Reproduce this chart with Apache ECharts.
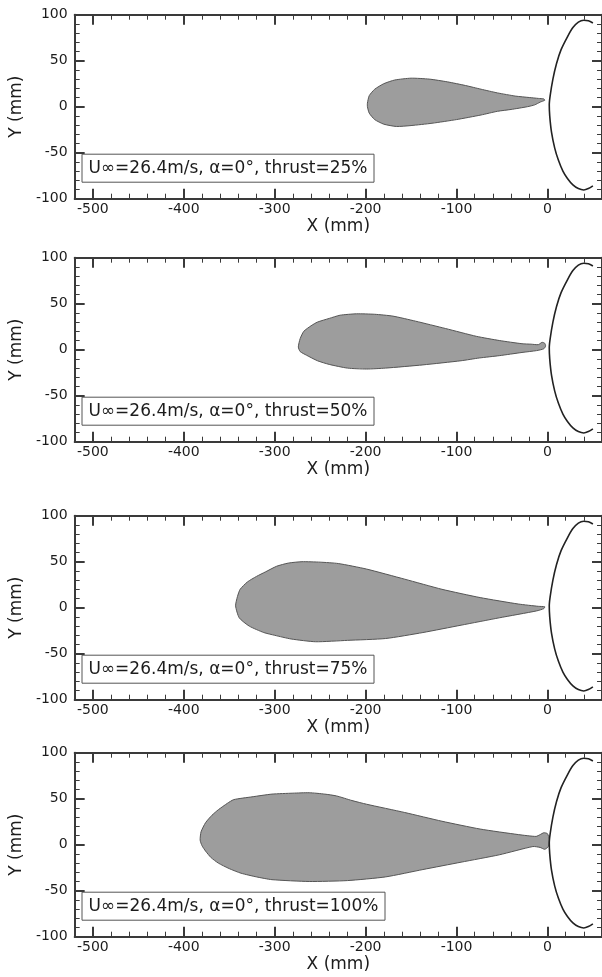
<!DOCTYPE html>
<html><head><meta charset="utf-8">
<script src="https://cdn.jsdelivr.net/npm/echarts@6/dist/echarts.min.js"></script>
<style>html,body{margin:0;padding:0;background:#fff}#c{width:602px;height:977px}</style>
</head><body><div id="c"></div>
<script>
// ---- data ----
const xMajorTicks = [-500, -400, -300, -200, -100, 0];
const xRange = [-520, 60];
const yRange = [-100, 100];
const panelLabels = [
  'U∞=26.4m/s, α=0°, thrust=25%',
  'U∞=26.4m/s, α=0°, thrust=50%',
  'U∞=26.4m/s, α=0°, thrust=75%',
  'U∞=26.4m/s, α=0°, thrust=100%'
];
const plume25 = [
  [-198,4],[-196,12],[-190,19],[-180,25],[-168,29],[-150,31],[-130,30],[-110,27],[-90,23],[-73,19],
  [-55,15],[-35,11.5],[-20,10],[-10,9],[-4,8.5],[-3,7],[-8,5],[-14,2],[-22,0],[-40,-3],[-55,-5],
  [-73,-9],[-100,-14],[-127,-18],[-150,-20.5],[-166,-21.5],[-180,-19],[-190,-14],[-196,-7],[-198,0]
];
const plume50 = [
  [-274,3],[-272,12],[-268,20],[-260,26],[-253,30],[-240,34],[-228,37.5],[-210,39],[-190,38.5],
  [-170,36.5],[-145,31],[-112,23],[-78,14.5],[-53,10],[-28,6.5],[-18,6],[-10,5.5],[-6,8],[-3,7],
  [-2,4],[-4,1],[-12,-1],[-28,-3],[-53,-6.5],[-75,-9],[-95,-12],[-137,-16.5],[-178,-20],[-199,-21],
  [-220,-20],[-240,-16],[-253,-12],[-265,-6],[-272,-2]
];
const plume75 = [
  [-343,2],[-341,12],[-338,20],[-330,28],[-320,34],[-310,39],[-298,45],[-285,48.5],[-270,50],
  [-250,49.5],[-230,48],[-199,42],[-157,31],[-116,20],[-74,11],[-32,4],[-10,1.5],[-3,1],[-4,-1],
  [-12,-3.5],[-53,-11],[-95,-19],[-137,-27],[-178,-33.5],[-220,-35.5],[-255,-37],[-282,-34],
  [-300,-30],[-312,-27],[-328,-20],[-339,-11]
];
const plume100 = [
  [-382,5],[-381,14],[-376,24],[-369,32],[-362,38],[-352,45],[-345,49],[-325,52],[-303,55],[-280,56],
  [-262,56.5],[-245,55],[-232,53],[-215,48],[-199,44],[-157,35],[-116,25.5],[-74,17],[-32,11],
  [-12.5,9],[-8,11],[-4,13],[0,12],[2,6],[1,-2],[-3,-5],[-8,-3],[-16,-2],[-53,-11],[-95,-19],
  [-137,-27],[-178,-35],[-220,-39],[-262,-40],[-303,-38],[-320,-35],[-337,-31],[-350,-26],
  [-362,-20],[-370,-14],[-376,-7],[-380,-1]
];
const bodyOutline = [
  [50,91],[45,93.5],[40,94],[34,92],[28,86],[22,76],[15,62],[10,47],[6,30],[3,12],[2,2],[2.5,-10],
  [4.5,-28],[8,-45],[12,-58],[17,-70],[22,-78],[28,-85],[34,-89],[40,-90.5],[45,-89],[50,-86]
];
const plumes = [plume25, plume50, plume75, plume100];

// ---- layout / style ----
const gridTops = [14.7, 257.7, 515.7, 752.7];
const gridLeft = 67.5, gridWidth = 536, gridHeight = 184;
const boxWidths = [292, 292, 292, 303];
const axisColor = '#3a3a3a';
const textColor = '#1c1c1c';
const FONT = 'DejaVu Sans';

const grids = [], xAxes = [], yAxes = [], series = [], graphics = [];

gridTops.forEach((top, i) => {
  grids.push({left: gridLeft, top: top, width: gridWidth, height: gridHeight, containLabel: false});
  const cx = {type: 'value', gridIndex: i, min: xRange[0], max: xRange[1], splitLine: {show: false}};
  const lineOn = {show: true, onZero: false, lineStyle: {color: axisColor, width: 2}};
  const lineOff = {show: false, onZero: false};
  xAxes.push(Object.assign({}, cx, {
    position: 'bottom', interval: 20, axisLine: lineOn,
    axisTick: {show: true, inside: true, length: 10, customValues: xMajorTicks, lineStyle: {color: axisColor, width: 2}},
    axisLabel: {show: true, customValues: xMajorTicks, margin: 4, fontSize: 14, fontFamily: FONT, color: textColor},
    name: 'X (mm)', nameLocation: 'middle', nameGap: 17,
    nameTextStyle: {fontSize: 17, fontFamily: FONT, color: textColor}
  }));
  xAxes.push(Object.assign({}, cx, {
    position: 'bottom', interval: 20, axisLine: lineOff,
    axisTick: {show: true, inside: true, length: 5, lineStyle: {color: axisColor, width: 1}},
    axisLabel: {show: false}
  }));
  xAxes.push(Object.assign({}, cx, {
    position: 'top', interval: 20, axisLine: lineOn,
    axisTick: {show: true, inside: true, length: 10, customValues: xMajorTicks, lineStyle: {color: axisColor, width: 2}},
    axisLabel: {show: false}
  }));
  xAxes.push(Object.assign({}, cx, {
    position: 'top', interval: 20, axisLine: lineOff,
    axisTick: {show: true, inside: true, length: 5, lineStyle: {color: axisColor, width: 1}},
    axisLabel: {show: false}
  }));

  const cy = {type: 'value', gridIndex: i, min: yRange[0], max: yRange[1], splitLine: {show: false}};
  yAxes.push(Object.assign({}, cy, {
    position: 'left', interval: 50, axisLine: lineOn,
    axisTick: {show: true, inside: true, length: 10, lineStyle: {color: axisColor, width: 2}},
    axisLabel: {show: true, margin: 7, fontSize: 14, fontFamily: FONT, color: textColor, showMinLabel: true, showMaxLabel: true},
    name: 'Y (mm)', nameLocation: 'middle', nameGap: 44, nameRotate: 90,
    nameTextStyle: {fontSize: 17, fontFamily: FONT, color: textColor}
  }));
  yAxes.push(Object.assign({}, cy, {
    position: 'left', interval: 10, axisLine: lineOff,
    axisTick: {show: true, inside: true, length: 5, lineStyle: {color: axisColor, width: 1}},
    axisLabel: {show: false}
  }));
  yAxes.push(Object.assign({}, cy, {
    position: 'right', interval: 50, axisLine: lineOn,
    axisTick: {show: true, inside: true, length: 10, lineStyle: {color: axisColor, width: 2}},
    axisLabel: {show: false}
  }));
  yAxes.push(Object.assign({}, cy, {
    position: 'right', interval: 10, axisLine: lineOff,
    axisTick: {show: true, inside: true, length: 5, lineStyle: {color: axisColor, width: 1}},
    axisLabel: {show: false}
  }));

  const pts = plumes[i];
  series.push({
    type: 'custom', name: 'plume' + i, xAxisIndex: 4 * i, yAxisIndex: 4 * i, clip: true,
    data: pts, encode: {x: 0, y: 1}, silent: true,
    renderItem: function (params, api) {
      if (params.dataIndex !== 0) return null;
      const points = pts.map(p => api.coord(p));
      return {type: 'polygon', shape: {points: points, smooth: 0.2},
        style: {fill: '#9d9d9d', stroke: '#555', lineWidth: 1}};
    }
  });
  series.push({
    type: 'line', name: 'body' + i, xAxisIndex: 4 * i, yAxisIndex: 4 * i,
    data: bodyOutline, smooth: 0.3, showSymbol: false, silent: true,
    lineStyle: {color: '#222', width: 1.6}
  });

  const bw = boxWidths[i];
  graphics.push({
    type: 'group', x: 82, y: top + 139.5, silent: true,
    children: [
      {type: 'rect', shape: {x: 0, y: 0, width: bw, height: 28},
        style: {fill: '#fff', stroke: '#555', lineWidth: 1}},
      {type: 'text', style: {text: panelLabels[i], x: bw / 2, y: 14.5, textAlign: 'center',
        textVerticalAlign: 'middle', verticalAlign: 'middle', font: '17px "' + FONT + '"', fill: textColor}}
    ]
  });
});

const chart = echarts.init(document.getElementById('c'), null, {renderer: 'canvas'});
chart.setOption({
  animation: false,
  backgroundColor: '#fff',
  grid: grids, xAxis: xAxes, yAxis: yAxes, series: series, graphic: graphics
});
</script></body></html>
